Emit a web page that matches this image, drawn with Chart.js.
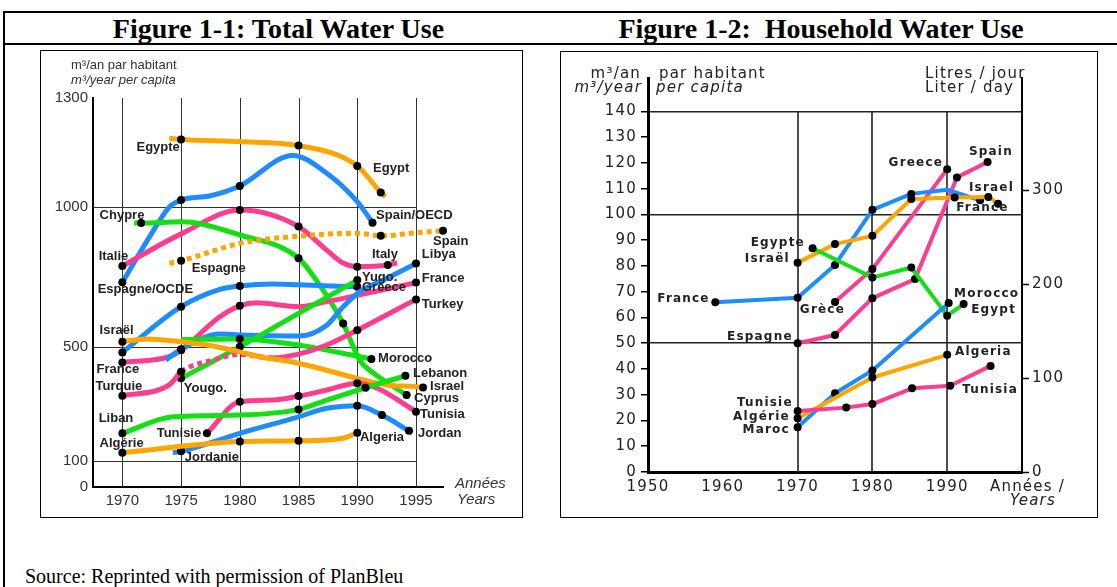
<!DOCTYPE html>
<html>
<head>
<meta charset="utf-8">
<script src="https://cdn.jsdelivr.net/npm/chart.js@4/dist/chart.umd.min.js"></script>
<style>
body { margin: 0; width: 1117px; height: 587px; background: #fff; position: relative; overflow: hidden; }
.rule { position: absolute; background: #000; }
.title { position: absolute; top: 13px; line-height: 32px; font: bold 28px "Liberation Serif", "Times New Roman", serif; text-align: center; white-space: pre; color: #000; }
.box { position: absolute; border: 1px solid #000; }
.box canvas { display: block; }
#source { position: absolute; left: 25px; top: 565px; line-height: 20px; font: 20px "Liberation Serif", "Times New Roman", serif; }
</style>
</head>
<body>
<div class="rule" style="left:3px;top:11px;width:1114px;height:2px"></div>
<div class="rule" style="left:3px;top:43px;width:1114px;height:2px"></div>
<div class="rule" style="left:3px;top:11px;width:2px;height:576px"></div>
<div class="title" style="left:40px;width:477px">Figure 1-1: Total Water Use</div>
<div class="title" style="left:560px;width:522px">Figure 1-2:  Household Water Use</div>
<div class="box" style="left:40px;top:50px;width:481px;height:466px"><canvas id="total" width="481" height="466"></canvas></div>
<div class="box" style="left:560px;top:51px;width:536px;height:465px"><canvas id="household" width="536" height="465"></canvas></div>
<div id="source">Source: Reprinted with permission of PlanBleu</div>

<script>
// Figure 1-1, total use, m3 per capita per year: [year, value, 1 = observation dot]
let years1 = [1970, 1975, 1980, 1985, 1990, 1995];
let yTicks1 = [0, 100, 500, 1000, 1300];
let yGrid1 = [100, 500, 1000];

let egypt1 = [[1974, 1189, 0], [1975, 1186, 1], [1980, 1180, 0], [1985, 1169, 1], [1990, 1113, 1], [1992, 1040, 1], [1992.4, 1028, 0]];
let spainOecd1 = [[1970, 731, 1], [1973, 940, 0], [1974, 1000, 0], [1975, 1019, 1], [1977.5, 1031, 0], [1980, 1058, 1], [1984.5, 1142, 0], [1987.4, 1093, 0], [1990, 1015, 0], [1991.3, 944, 1]];
let italy1 = [[1970, 789, 1], [1975, 904, 0], [1980, 989, 1], [1985, 930, 1], [1987.4, 846, 0], [1988.8, 800, 0], [1990, 787, 1], [1992.6, 793, 1], [1993.4, 801, 0]];
let cyprus1 = [[1971, 943, 0], [1971.6, 943, 1], [1975, 947, 0], [1980, 900, 0], [1985, 817, 1], [1986.7, 727, 0], [1988.8, 584, 1], [1990.2, 454, 0], [1991.4, 408, 0], [1993.1, 361, 0], [1994.2, 332, 1], [1994.5, 326, 0]];
let spain1 = [[1974, 799, 0], [1975, 808, 1], [1980, 870, 0], [1985, 896, 0], [1990, 906, 0], [1992, 897, 1], [1995, 908, 0], [1997.3, 915, 1]];
let greece1 = [[1970, 481, 1], [1975, 644, 1], [1978.3, 706, 0], [1980, 718, 1], [1982.8, 725, 0], [1985, 722, 0], [1990, 715, 1]];
let libya1 = [[1973.7, 454, 0], [1975, 492, 1], [1978.3, 546, 0], [1980, 543, 0], [1985, 539, 0], [1987.4, 578, 0], [1988.8, 644, 0], [1990.2, 697, 0], [1992.5, 745, 0], [1995, 798, 1]];
let france1 = [[1970, 446, 1], [1974, 466, 0], [1975, 489, 1], [1978.3, 608, 0], [1980, 647, 1], [1981.4, 658, 0], [1985, 644, 0], [1987.4, 662, 0], [1990.2, 686, 0], [1995, 730, 1]];
let turkey1 = [[1970, 329, 1], [1974, 367, 0], [1975, 413, 1], [1977.7, 454, 0], [1980, 474, 0], [1982.8, 462, 0], [1985, 475, 0], [1987.4, 507, 0], [1990, 560, 1], [1995, 670, 1]];
let turkeyDotted = [1975, 1982.8];
let yugo1 = [[1975, 390, 1], [1980, 501, 1], [1985, 620, 0], [1990, 739, 1]];
let morocco1 = [[1975, 527, 0], [1980, 529, 1], [1985, 507, 0], [1987.4, 489, 0], [1991.2, 458, 1]];
let jordan1 = [[1974.3, 129, 0], [1975, 134, 1], [1980, 197, 0], [1985, 255, 0], [1987.4, 285, 0], [1990, 294, 1], [1992.1, 261, 1], [1994.4, 206, 1], [1994.7, 199, 0]];
let lebanon1 = [[1970, 197, 1], [1974.3, 255, 0], [1980, 261, 0], [1985, 281, 1], [1987.4, 314, 0], [1990.7, 357, 1], [1994.1, 399, 1]];
let tunisia1 = [[1977.2, 197, 1], [1980, 308, 1], [1982.8, 314, 0], [1985, 328, 1], [1987.4, 349, 0], [1990, 373, 1], [1991.7, 355, 0], [1995, 273, 1]];
let algeria1 = [[1970, 129, 1], [1980, 168, 1], [1985, 171, 1], [1988.8, 180, 0], [1990, 199, 1]];
let israel1 = [[1970, 519, 1], [1972, 529, 0], [1975, 519, 0], [1977.2, 507, 0], [1980, 483, 0], [1981.7, 466, 0], [1985, 443, 0], [1990, 390, 0], [1992.5, 367, 0], [1995, 361, 0], [1995.6, 358, 1]];

// Figure 1-2, household use, m3 per capita per year
let xTicks2 = [1950, 1960, 1970, 1980, 1990];
let yTicks2 = [0, 10, 20, 30, 40, 50, 60, 70, 80, 90, 100, 110, 120, 130, 140];
let yGrid2 = [50, 100, 140];
let litreTicks2 = [0, 100, 200, 300];
let years2 = [1970, 1980, 1990];

let france2 = [[1959, 65.9, 1], [1970, 67.7, 1], [1975, 80.4, 1], [1980, 101.8, 1], [1985.2, 108, 1], [1990, 109.6, 0], [1994.4, 105.5, 1]];
let israel2 = [[1970, 81.3, 1], [1975, 88.5, 1], [1980, 91.7, 1], [1985.2, 106, 1], [1991, 106.6, 1], [1995.5, 106.8, 1], [1996.8, 104.2, 1]];
let egypt2 = [[1972, 86.9, 1], [1980, 75.5, 1], [1985.2, 79.4, 1], [1990, 60.7, 1], [1992.2, 65.2, 1]];
let greece2 = [[1975, 66, 1], [1980, 78.8, 1], [1990, 117.6, 1]];
let spain2 = [[1970, 50, 1], [1975, 53.2, 1], [1980, 67.5, 1], [1985.7, 74.9, 1], [1991.3, 114.4, 1], [1995.4, 120.4, 1]];
let morocco2 = [[1970, 17.4, 1], [1975, 30.6, 1], [1980, 39.4, 1], [1990.2, 65.6, 1]];
let algeria2 = [[1970, 20.9, 1], [1980, 36.7, 1], [1990, 45.5, 1]];
let tunisia2 = [[1970, 23.7, 1], [1976.5, 25, 1], [1980, 26.4, 1], [1985.3, 32.5, 1], [1990.4, 33.5, 1], [1995.8, 41.2, 1]];

let orange = '#ffa500', blue = '#1e8cff', pink = '#ff3d8e', green = '#14df14';

// country names, anchored in data space: [text, year, value, align]
let labels1 = [
	['Egypte', 1971.2, 1165], ['Egypt', 1991.35, 1105], ['Chypre', 1968.06, 971], ['Italie', 1967.98, 825],
	['Espagne', 1975.9, 782], ['Espagne/OCDE', 1967.9, 707], ['Spain/OECD', 1991.6, 971], ['Spain', 1996.45, 877],
	['Italy', 1991.25, 829], ['Libya', 1995.5, 829], ['Yugo.', 1990.4, 750], ['Greece', 1990.4, 711],
	['France', 1995.5, 746], ['Turkey', 1995.5, 652], ['Israël', 1968.06, 559], ['France', 1967.8, 421],
	['Turquie', 1967.72, 363], ['Yougo.', 1975.23, 353], ['Morocco', 1991.77, 461], ['Lebanon', 1994.75, 409],
	['Israel', 1996.2, 363], ['Cyprus', 1994.84, 321], ['Tunisia', 1995.35, 265], ['Liban', 1967.98, 251],
	['Tunisie', 1972.92, 198], ['Jordan', 1995.17, 198], ['Algeria', 1990.23, 182], ['Algérie', 1968.06, 163],
	['Jordanie', 1975.31, 114]
];
let labels2 = [
	['France', 1958.25, 67.4, 'right'], ['Egypte', 1970.98, 89, 'right'], ['Israël', 1968.96, 82.6, 'right'],
	['Grèce', 1970.3, 62.9], ['Espagne', 1969.35, 52.3, 'right'], ['Tunisie', 1969.35, 26.8, 'right'],
	['Algérie', 1968.96, 21.4, 'right'], ['Maroc', 1968.96, 16.3, 'right'], ['Greece', 1989.45, 119.9, 'right'],
	['Spain', 1992.9, 124.3], ['Israel', 1992.9, 110.2], ['France', 1991.2, 102.4], ['Morocco', 1990.92, 69.2],
	['Egypt', 1993.2, 63.1], ['Algeria', 1991.05, 46.6], ['Tunisia', 1992, 31.9]
];

// value axis of figure 1-1 is not linear: each band has its own height
let BREAKS = [0, 100, 500, 1000, 1300];
let STOPS = [0, 26, 140, 280, 389];
let Linear = Chart.LinearScale || Chart.registry.getScale('linear');
class BrokenScale extends Linear {
	getPixelForValue(value) {
		if (value === null || value === undefined) return NaN;
		let i = 1;
		while (i < BREAKS.length - 1 && value > BREAKS[i]) i++;
		let t = (value - BREAKS[i - 1]) / (BREAKS[i] - BREAKS[i - 1]);
		let d = (STOPS[i - 1] + t * (STOPS[i] - STOPS[i - 1])) / STOPS[STOPS.length - 1];
		return this.getPixelForDecimal(d);
	}
	getValueForPixel(pixel) {
		let d = this.getDecimalForPixel(pixel) * STOPS[STOPS.length - 1];
		let i = 1;
		while (i < STOPS.length - 1 && d > STOPS[i]) i++;
		let t = (d - STOPS[i - 1]) / (STOPS[i] - STOPS[i - 1]);
		return BREAKS[i - 1] + t * (BREAKS[i] - BREAKS[i - 1]);
	}
}
BrokenScale.id = 'broken';
BrokenScale.defaults = Linear.defaults;
Chart.register(BrokenScale);

function series(points, color, width, smooth) {
	return {
		data: points.map(p => ({x: p[0], y: p[1]})),
		borderColor: color,
		borderWidth: width,
		pointRadius: points.map(p => p[2] ? 4 : 0),
		pointBackgroundColor: '#000',
		pointBorderWidth: 0,
		cubicInterpolationMode: smooth ? 'monotone' : 'default',
		tension: 0,
		borderJoinStyle: 'round',
		clip: false
	};
}

function namesPlugin(list, font, color) {
	return {
		id: 'names',
		afterDatasetsDraw(chart) {
			let {ctx, scales} = chart;
			ctx.save();
			ctx.font = font;
			ctx.fillStyle = color;
			ctx.textBaseline = 'middle';
			list.forEach(n => {
				ctx.textAlign = n[3] || 'left';
				ctx.fillText(n[0], scales.x.getPixelForValue(n[1]), scales.y.getPixelForValue(n[2]));
			});
			ctx.restore();
		}
	};
}

let sans = '"Liberation Sans", Arial, sans-serif';
let deja = '"DejaVu Sans", sans-serif';

let spainDotted = series(spain1, orange, 5, true);
spainDotted.borderDash = [5, 4];
let turkeyLine = series(turkey1, pink, 5, true);
turkeyLine.segment = {
	borderDash: c => (c.p0.parsed.x >= turkeyDotted[0] && c.p1.parsed.x <= turkeyDotted[1]) ? [5, 4] : undefined
};

let grid1 = {
	id: 'grid1',
	beforeDatasetsDraw(chart) {
		let {ctx, scales: {x, y}} = chart;
		ctx.save();
		ctx.strokeStyle = '#333';
		ctx.lineWidth = 1;
		ctx.beginPath();
		yGrid1.forEach(v => {
			let py = Math.round(y.getPixelForValue(v)) + 0.5;
			ctx.moveTo(x.left, py);
			ctx.lineTo(x.getPixelForValue(years1[years1.length - 1]), py);
		});
		years1.forEach(v => {
			let px = Math.round(x.getPixelForValue(v)) + 0.5;
			ctx.moveTo(px, y.getPixelForValue(yTicks1[0]));
			ctx.lineTo(px, y.getPixelForValue(yTicks1[yTicks1.length - 1]));
		});
		ctx.stroke();
		ctx.restore();
	}
};

let titles1 = {
	id: 'titles1',
	afterDraw(chart) {
		let {ctx, chartArea: a} = chart;
		ctx.save();
		ctx.fillStyle = '#333';
		ctx.textAlign = 'left';
		ctx.font = '13px ' + sans;
		ctx.fillText('m³/an par habitant', a.left - 22, a.top - 29);
		ctx.font = 'italic 13px ' + sans;
		ctx.fillText('m³/year per capita', a.left - 22, a.top - 14);
		ctx.font = 'italic 15px ' + sans;
		ctx.fillText('Années', a.right + 12, a.bottom + 1);
		ctx.fillText('Years', a.right + 14, a.bottom + 17);
		ctx.restore();
	}
};

new Chart(document.getElementById('total'), {
	type: 'line',
	data: {
		datasets: [
			series(algeria1, orange, 5, true),
			series(jordan1, blue, 5, true),
			series(lebanon1, green, 5, true),
			series(tunisia1, pink, 5, true),
			series(israel1, orange, 5, true),
			turkeyLine,
			series(yugo1, green, 5, true),
			series(morocco1, green, 5, true),
			series(libya1, blue, 5, true),
			series(france1, pink, 5, true),
			series(greece1, blue, 5, true),
			spainDotted,
			series(cyprus1, green, 5, true),
			series(italy1, pink, 5, true),
			series(spainOecd1, blue, 5, true),
			series(egypt1, orange, 5, true)
		]
	},
	options: {
		responsive: false,
		devicePixelRatio: 1,
		animation: false,
		events: [],
		layout: {padding: {top: 47, right: 79, left: 0, bottom: 0}},
		plugins: {legend: {display: false}, tooltip: {enabled: false}},
		scales: {
			x: {
				type: 'linear',
				min: 1967.5,
				max: 1997.3,
				afterBuildTicks: s => { s.ticks = years1.map(v => ({value: v})); },
				afterFit: s => { s.height = 30; },
				grid: {display: false, drawTicks: false},
				border: {display: true, color: '#000', width: 2},
				ticks: {autoSkip: false, maxRotation: 0, padding: 5, color: '#333', font: {family: sans, size: 15}, callback: v => String(v)}
			},
			y: {
				type: 'broken',
				min: 0,
				max: 1300,
				afterBuildTicks: s => { s.ticks = yTicks1.map(v => ({value: v})); },
				afterFit: s => { s.width = 52; },
				grid: {display: false, drawTicks: false},
				border: {display: true, color: '#000', width: 2},
				ticks: {padding: 5, color: '#333', font: {family: sans, size: 15}, callback: v => String(v)}
			}
		}
	},
	plugins: [grid1, namesPlugin(labels1, 'bold 13px ' + sans, '#222'), titles1]
});

let spacing2 = {
	id: 'spacing2',
	beforeDraw(chart) { chart.ctx.letterSpacing = '1.2px'; }
};

let grid2 = {
	id: 'grid2',
	beforeDatasetsDraw(chart) {
		let {ctx, scales: {x, y}} = chart;
		ctx.save();
		ctx.strokeStyle = '#222';
		ctx.lineWidth = 1.6;
		ctx.beginPath();
		years2.forEach(v => {
			let px = Math.round(x.getPixelForValue(v));
			ctx.moveTo(px, y.getPixelForValue(yTicks2[0]));
			ctx.lineTo(px, y.getPixelForValue(yTicks2[yTicks2.length - 1]));
		});
		ctx.stroke();
		ctx.restore();
	}
};

let titles2 = {
	id: 'titles2',
	afterDraw(chart) {
		let {ctx, chartArea: a} = chart;
		ctx.save();
		ctx.fillStyle = '#222';
		ctx.font = '15px ' + deja;
		ctx.textAlign = 'right';
		ctx.fillText('m³/an', a.left - 7, a.top);
		ctx.textAlign = 'left';
		ctx.fillText('par habitant', a.left + 11, a.top);
		ctx.fillText('Litres / jour', a.right - 97, a.top);
		ctx.fillText('Liter / day', a.right - 97, a.top + 14);
		ctx.fillText('Années /', a.right - 32, a.bottom + 19);
		ctx.font = 'italic 15px ' + deja;
		ctx.textAlign = 'right';
		ctx.fillText('m³/year', a.left - 6, a.top + 14);
		ctx.textAlign = 'left';
		ctx.fillText('per capita', a.left + 8, a.top + 14);
		ctx.fillText('Years', a.right - 12, a.bottom + 33);
		ctx.restore();
	}
};

let yMax2 = 153;

new Chart(document.getElementById('household'), {
	type: 'line',
	data: {
		datasets: [
			series(tunisia2, pink, 4, false),
			series(algeria2, orange, 4, false),
			series(morocco2, blue, 4, false),
			series(egypt2, green, 4, false),
			series(israel2, orange, 4, false),
			series(france2, blue, 4, false),
			series(spain2, pink, 4, false),
			series(greece2, pink, 4, false)
		]
	},
	options: {
		responsive: false,
		devicePixelRatio: 1,
		animation: false,
		events: [],
		layout: {padding: {top: 26, right: 25, left: 0, bottom: 0}},
		plugins: {legend: {display: false}, tooltip: {enabled: false}},
		scales: {
			x: {
				type: 'linear',
				min: 1950,
				max: 2000,
				afterBuildTicks: s => { s.ticks = xTicks2.map(v => ({value: v})); },
				afterFit: s => { s.height = 45; },
				grid: {display: false, drawTicks: false},
				border: {display: true, color: '#000', width: 3},
				ticks: {autoSkip: false, maxRotation: 0, padding: 6, color: '#222', font: {family: deja, size: 15}, callback: v => String(v)}
			},
			y: {
				type: 'linear',
				min: 0,
				max: yMax2,
				afterBuildTicks: s => { s.ticks = yTicks2.map(v => ({value: v})); },
				afterFit: s => { s.width = 87; },
				grid: {
					color: c => (c.tick && yGrid2.includes(c.tick.value)) ? '#222' : 'rgba(0,0,0,0)',
					lineWidth: 1.5,
					tickColor: '#000',
					tickWidth: 1.5,
					tickLength: 7
				},
				border: {display: true, color: '#000', width: 3},
				ticks: {padding: 4, color: '#222', font: {family: deja, size: 15}, callback: v => String(v)}
			},
			y2: {
				type: 'linear',
				position: 'right',
				min: 0,
				max: yMax2 * 1000 / 365,
				afterBuildTicks: s => { s.ticks = litreTicks2.map(v => ({value: v})); },
				afterFit: s => { s.width = 50; },
				grid: {drawOnChartArea: false, color: 'rgba(0,0,0,0)', tickColor: '#000', tickWidth: 1.5, tickLength: 7},
				border: {display: true, color: '#000', width: 2},
				ticks: {padding: 3, color: '#222', font: {family: deja, size: 15}, callback: v => String(v)}
			}
		}
	},
	plugins: [spacing2, grid2, namesPlugin(labels2, 'bold 12px ' + deja, '#222'), titles2]
});
</script>
</body>
</html>
